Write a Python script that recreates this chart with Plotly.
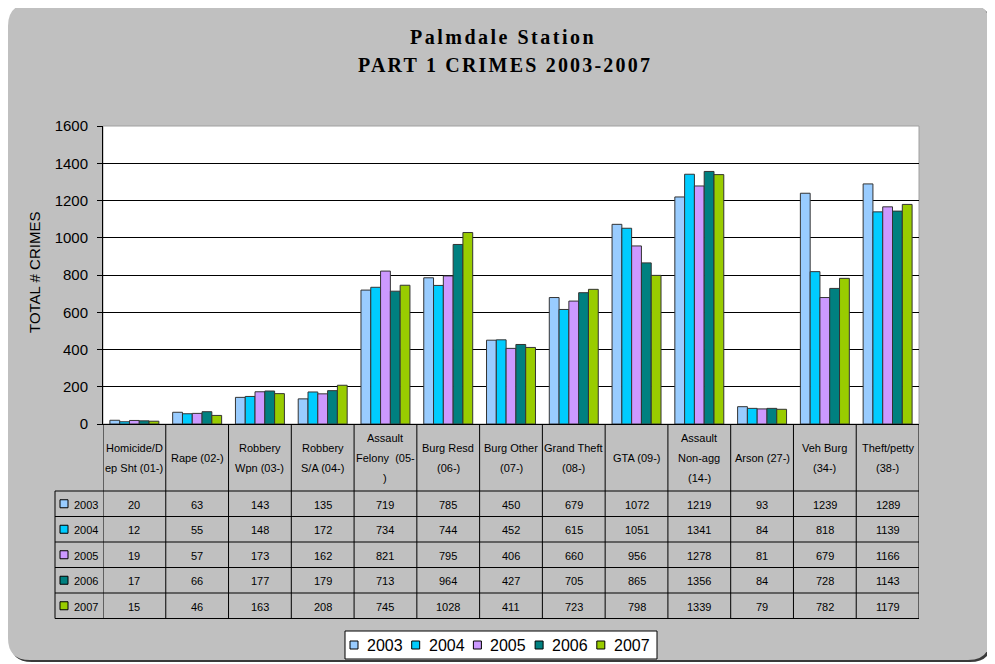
import plotly.graph_objects as go

# ---------------- data ----------------
categories = [
    "Homicide/D\nep Sht (01-)", "Rape (02-)", "Robbery\nWpn (03-)", "Robbery\nS/A (04-)",
    "Assault\nFelony  (05-\n)", "Burg Resd\n(06-)", "Burg Other\n(07-)", "Grand Theft\n(08-)",
    "GTA (09-)", "Assault\nNon-agg\n(14-)", "Arson (27-)", "Veh Burg\n(34-)", "Theft/petty\n(38-)",
]
years = ["2003", "2004", "2005", "2006", "2007"]
v2003 = [20, 63, 143, 135, 719, 785, 450, 679, 1072, 1219, 93, 1239, 1289]
v2004 = [12, 55, 148, 172, 734, 744, 452, 615, 1051, 1341, 84, 818, 1139]
v2005 = [19, 57, 173, 162, 821, 795, 406, 660, 956, 1278, 81, 679, 1166]
v2006 = [17, 66, 177, 179, 713, 964, 427, 705, 865, 1356, 84, 728, 1143]
v2007 = [15, 46, 163, 208, 745, 1028, 411, 723, 798, 1339, 79, 782, 1179]
series = [v2003, v2004, v2005, v2006, v2007]
colors = ["#99CCFF", "#00CCFF", "#CC99FF", "#008080", "#99CC00"]
y_ticks = [0, 200, 400, 600, 800, 1000, 1200, 1400, 1600]

title_1 = "Palmdale Station"
title_2 = "PART 1 CRIMES 2003-2007"
y_title = "TOTAL # CRIMES"

# ---------------- layout geometry (page pixels) ----------------
OFF = 8                      # page body margin
W, H = 995 - OFF, 664 - OFF  # figure size
L, R, T, B = 103, 919, 126, 424   # plot area in page pixels
PW, PH = R - L, B - T


def X(px):
    return (px - L) / PW


def Y(py):
    return (B - py) / PH


def rounded(x0, y0, x1, y1, r):
    pts = [
        ("M", [(x0 + r, y0)]), ("L", [(x1 - r, y0)]), ("Q", [(x1, y0), (x1, y0 + r)]),
        ("L", [(x1, y1 - r)]), ("Q", [(x1, y1), (x1 - r, y1)]), ("L", [(x0 + r, y1)]),
        ("Q", [(x0, y1), (x0, y1 - r)]), ("L", [(x0, y0 + r)]), ("Q", [(x0, y0), (x0 + r, y0)]),
    ]
    s = ""
    for cmd, ps in pts:
        s += cmd + " ".join("%.5f,%.5f" % (X(a), Y(b)) for a, b in ps) + " "
    return s + "Z"


fig = go.Figure()
n = len(categories)
xs = list(range(n))
for yr, vals, col in zip(years, series, colors):
    fig.add_trace(go.Bar(
        x=xs, y=vals, name=yr, marker=dict(color=col, line=dict(color="#333333", width=1)),
        showlegend=False,
    ))

shapes = []
# shadow + grey rounded background
shapes.append(dict(type="path", xref="paper", yref="paper", layer="below",
                   path=rounded(10, 6, 992, 662, 22), fillcolor="#3a3a3a", line=dict(width=0)))
shapes.append(dict(type="path", xref="paper", yref="paper", layer="below",
                   path=rounded(8, 4, 990, 660, 22), fillcolor="#C0C0C0", line=dict(width=0)))
# white plot area
shapes.append(dict(type="rect", xref="paper", yref="paper", layer="below",
                   x0=0, x1=1, y0=0, y1=1, fillcolor="white", line=dict(color="#A0A0A0", width=1)))

# ---------------- data table ----------------
row_lines = [491, 516.5, 542, 567.5, 593, 618.5]
line_style = dict(color="#000000", width=1)
for i in range(n + 1):
    shapes.append(dict(type="line", xref="x", yref="paper", x0=i - 0.5, x1=i - 0.5,
                       y0=Y(B), y1=Y(row_lines[-1]), line=line_style))
shapes.append(dict(type="line", xref="paper", yref="paper", x0=X(55), x1=X(55),
                   y0=Y(row_lines[0]), y1=Y(row_lines[-1]), line=line_style))
for ry in row_lines:
    shapes.append(dict(type="line", xref="paper", yref="paper", x0=X(55), x1=1,
                       y0=Y(ry), y1=Y(ry), line=line_style))

annotations = []
tfont = dict(family="Arial, Liberation Sans, sans-serif", size=11, color="#000000")
# header cells
for i, cat in enumerate(categories):
    lines = cat.split("\n")
    k = len(lines)
    for j, ln in enumerate(lines):
        cy = 457.5 + (j - (k - 1) / 2) * 20
        annotations.append(dict(x=i, y=Y(cy), xref="x", yref="paper", text=ln, showarrow=False,
                                xanchor="center", yanchor="middle", font=tfont))
# value rows
for r, (yr, vals, col) in enumerate(zip(years, series, colors)):
    cy = (row_lines[r] + row_lines[r + 1]) / 2
    shapes.append(dict(type="rect", xref="paper", yref="paper", x0=X(60), x1=X(68),
                       y0=Y(cy + 4), y1=Y(cy - 4), fillcolor=col, line=dict(color="#000000", width=1)))
    annotations.append(dict(x=X(72), y=Y(cy + 1), xref="paper", yref="paper", text=yr, showarrow=False,
                            xanchor="left", yanchor="middle", font=tfont))
    for i, v in enumerate(vals):
        annotations.append(dict(x=i, y=Y(cy + 1), xref="x", yref="paper", text=str(v), showarrow=False,
                                xanchor="center", yanchor="middle", font=tfont))

# ---------------- legend (drawn) ----------------
shapes.append(dict(type="rect", xref="paper", yref="paper", x0=X(345), x1=X(657),
                   y0=Y(659), y1=Y(631), fillcolor="white", line=dict(color="#000000", width=1)))
lfont = dict(family="Arial, Liberation Sans, sans-serif", size=16, color="#000000")
for k, (yr, col) in enumerate(zip(years, colors)):
    kx = 350 + k * 61.7
    shapes.append(dict(type="rect", xref="paper", yref="paper", x0=X(kx), x1=X(kx + 8),
                       y0=Y(649), y1=Y(641), fillcolor=col, line=dict(color="#000000", width=1)))
    annotations.append(dict(x=X(kx + 15), y=Y(645.5), xref="paper", yref="paper", text=yr,
                            showarrow=False, xanchor="left", yanchor="middle", font=lfont))

# ---------------- titles ----------------
ttl_font = dict(family="Liberation Serif, Times New Roman, serif", size=20, color="#000000", weight="bold")
annotations.append(dict(x=X(503), y=Y(37), xref="paper", yref="paper", showarrow=False,
                        text='<span style="letter-spacing:2.5px">%s</span>' % title_1,
                        xanchor="center", yanchor="middle", font=ttl_font))
annotations.append(dict(x=X(505), y=Y(65), xref="paper", yref="paper", showarrow=False,
                        text='<span style="letter-spacing:2.2px">%s</span>' % title_2,
                        xanchor="center", yanchor="middle", font=ttl_font))
annotations.append(dict(x=X(34), y=Y(273), xref="paper", yref="paper", showarrow=False,
                        text=y_title, textangle=-90, xanchor="center", yanchor="middle",
                        font=dict(family="Arial, Liberation Sans, sans-serif", size=15, color="#000000")))

fig.update_layout(
    width=W, height=H,
    margin=dict(l=L - OFF, r=W - (R - OFF), t=T - OFF, b=H - (B - OFF), pad=0),
    paper_bgcolor="white", plot_bgcolor="white",
    barmode="group", bargap=0.22, bargroupgap=0,
    shapes=shapes, annotations=annotations,
    showlegend=False,
    xaxis=dict(range=[-0.5, n - 0.5], showticklabels=False, showgrid=False, zeroline=False,
               showline=True, linecolor="#000000", linewidth=1, ticks="", fixedrange=True),
    yaxis=dict(range=[0, 1600], tickvals=y_ticks, showgrid=True, gridcolor="#000000", gridwidth=1,
               zeroline=False, showline=True, linecolor="#000000", linewidth=1,
               ticks="outside", ticklen=5, tickcolor="#000000", ticklabelstandoff=6,
               tickfont=dict(family="Arial, Liberation Sans, sans-serif", size=15, color="#000000")),
)

fig.write_html("out.html")
